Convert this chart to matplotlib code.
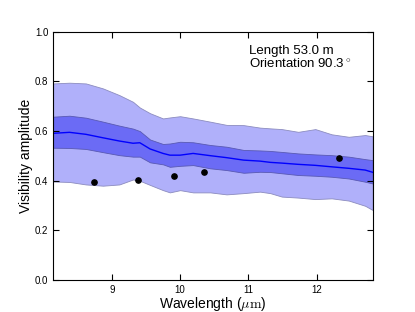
import numpy as np
import matplotlib
matplotlib.use("Agg")
import matplotlib.pyplot as plt

plt.rcParams['font.family'] = ['Liberation Sans', 'DejaVu Sans']
plt.rcParams['mathtext.fontset'] = 'cm'

# model wavelength grid
wl = [8.14, 8.38, 8.62, 8.87, 9.11, 9.31, 9.41, 9.56, 9.75, 9.85, 10.0, 10.19,
      10.44, 10.68, 10.93, 11.17, 11.32, 11.49, 11.73, 11.98, 12.22, 12.47, 12.71, 12.82]
out_hi = [0.792, 0.795, 0.792, 0.772, 0.745, 0.718, 0.695, 0.672, 0.651, 0.655, 0.660, 0.651,
          0.638, 0.625, 0.624, 0.614, 0.611, 0.608, 0.597, 0.608, 0.587, 0.577, 0.584, 0.579]
in_hi = [0.658, 0.662, 0.654, 0.638, 0.622, 0.610, 0.600, 0.566, 0.548, 0.550, 0.557, 0.555,
         0.544, 0.537, 0.524, 0.522, 0.520, 0.516, 0.510, 0.506, 0.503, 0.497, 0.487, 0.483]
mean = [0.591, 0.595, 0.587, 0.573, 0.560, 0.551, 0.553, 0.528, 0.510, 0.503, 0.503, 0.510,
        0.501, 0.493, 0.483, 0.479, 0.474, 0.471, 0.466, 0.462, 0.456, 0.450, 0.443, 0.434]
in_lo = [0.533, 0.532, 0.528, 0.515, 0.503, 0.497, 0.497, 0.474, 0.466, 0.456, 0.460, 0.463,
         0.450, 0.443, 0.432, 0.436, 0.435, 0.430, 0.423, 0.420, 0.416, 0.409, 0.396, 0.389]
out_lo = [0.397, 0.395, 0.385, 0.380, 0.385, 0.405, 0.400, 0.383, 0.362, 0.353, 0.362, 0.353,
          0.353, 0.345, 0.350, 0.356, 0.350, 0.336, 0.332, 0.326, 0.329, 0.320, 0.299, 0.282]

obs_wl = [8.736, 9.377, 9.914, 10.35, 12.33]
obs_v = [0.393, 0.403, 0.420, 0.435, 0.490]

fig = plt.figure(figsize=(4.15, 3.12), dpi=100)
ax = fig.add_axes([0.128, 0.1026, 0.77, 0.7954])

ax.fill_between(wl, out_lo, out_hi, facecolor=(0.69, 0.69, 0.98), edgecolor=(0.55, 0.55, 0.75), linewidth=0.6)
ax.fill_between(wl, in_lo, in_hi, facecolor=(0.42, 0.42, 0.96), edgecolor=(0.35, 0.35, 0.7), linewidth=0.6)
ax.plot(wl, mean, color='b', linewidth=1.0)
ax.plot(obs_wl, obs_v, 'o', color='k', markersize=3.8)

ax.set_xlim(8.14, 12.82)
ax.set_ylim(0, 1.0)
ax.set_xticks([9, 10, 11, 12])
ax.set_yticks([0.0, 0.2, 0.4, 0.6, 0.8, 1.0])
ax.tick_params(direction='in', top=True, right=True, labelsize=7, length=4)
ax.set_xlabel(r'Wavelength ($\mu\mathrm{m}$)', fontsize=10, labelpad=0)
ax.set_ylabel('Visibility amplitude', fontsize=10, labelpad=1)
ax.text(0.613, 0.945, 'Length 53.0 m\nOrientation 90.3$^\\circ$', transform=ax.transAxes,
        fontsize=9.5, va='top', ha='left', linespacing=1.0)

fig.savefig('out.png', dpi=100)
